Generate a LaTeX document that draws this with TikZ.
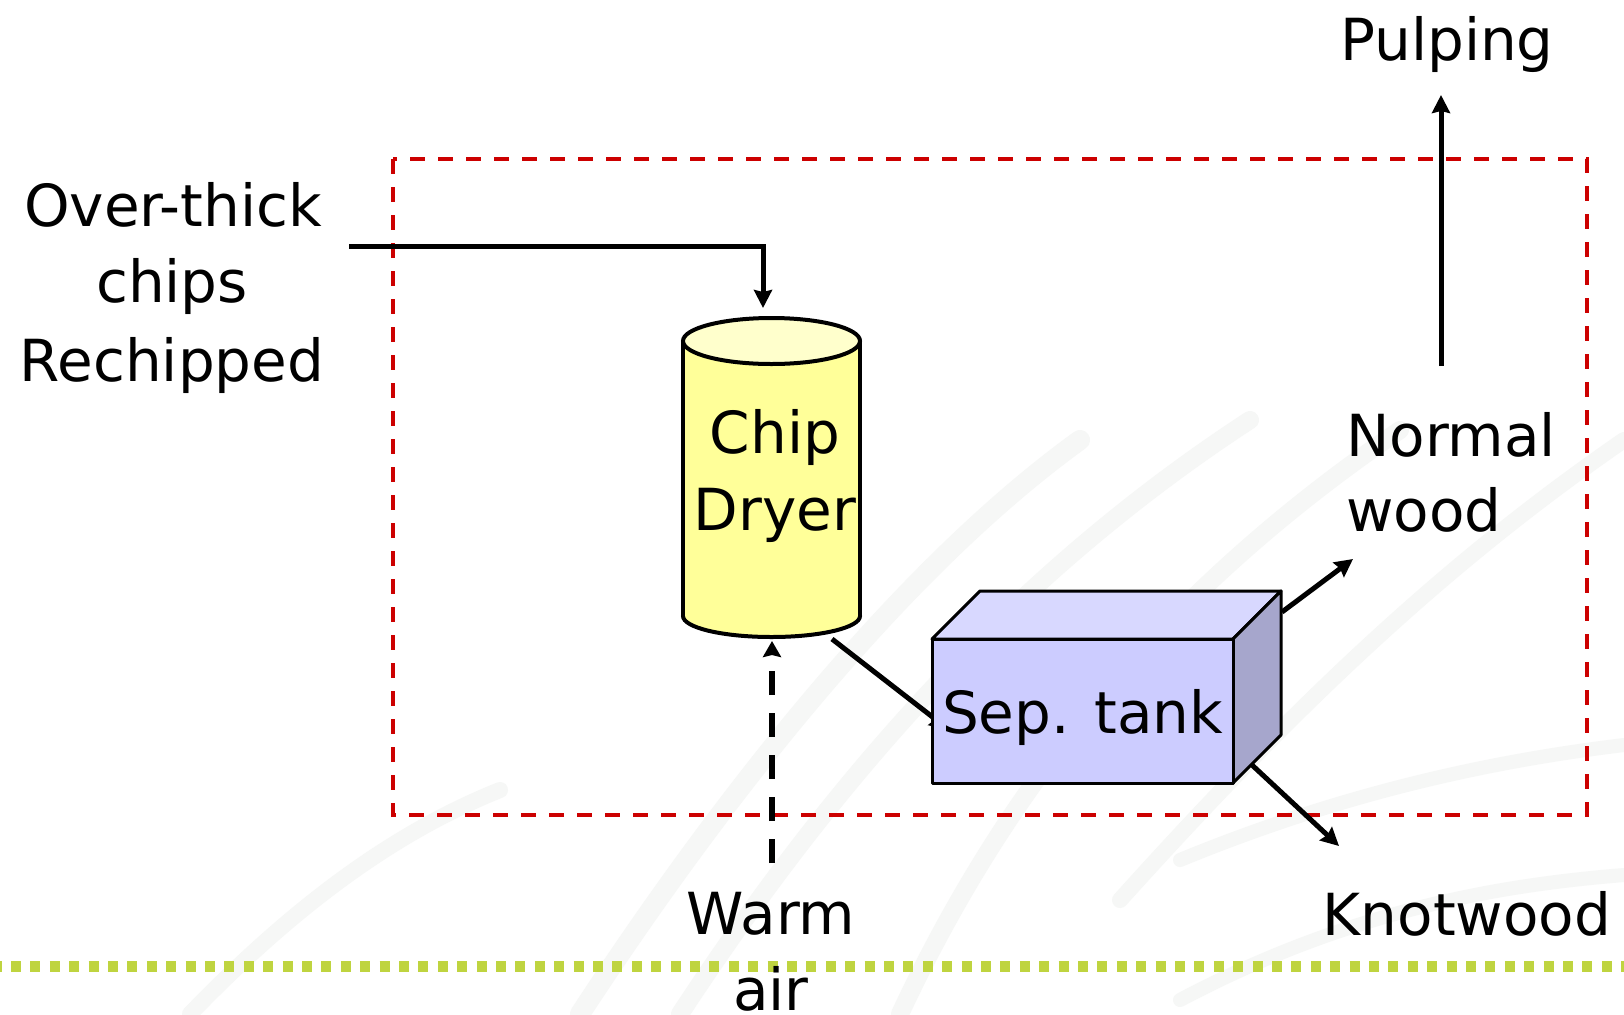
\documentclass[tikz,border=0pt]{standalone}
\usepackage{fontspec}
\setmainfont{DejaVu Sans}
\usetikzlibrary{arrows.meta}
\definecolor{boxred}{RGB}{204,0,0}
\definecolor{dotgreen}{RGB}{191,212,64}
\definecolor{dryerbody}{RGB}{255,255,153}
\definecolor{dryerlid}{RGB}{255,255,204}
\definecolor{tankfront}{RGB}{204,204,255}
\definecolor{tanktop}{RGB}{216,216,255}
\definecolor{tankside}{RGB}{166,166,204}
\definecolor{swooshgray}{RGB}{246,247,246}
\begin{document}
\begin{tikzpicture}[x=1bp,y=-1bp,
  lbl/.style={font=\fontsize{58bp}{70bp}\selectfont, inner sep=0pt, anchor=base},
  flow/.style={line width=5bp, -{Stealth[length=18bp,width=18bp,inset=2bp]}},
  airflow/.style={line width=6.5bp, dash pattern=on 24bp off 18bp, -{Stealth[length=16bp,width=18bp,inset=2bp]}},
  boundary/.style={draw=boxred, line width=4bp, dash pattern=on 15bp off 13bp},
  swoosh/.style={draw=swooshgray, line cap=round},
  outline/.style={draw=black, line width=4bp},
  tankedge/.style={draw=black, line width=3bp, line join=round}]
\useasboundingbox (0,0) rectangle (1624,1014);
\fill[white] (0,0) rectangle (1624,1014);

% faint background swooshes
\draw[swoosh, line width=16bp] (190,1014) .. controls (300,900) and (400,830) .. (500,790);
\draw[swoosh, line width=20bp] (580,1014) .. controls (720,800) and (900,570) .. (1080,440);
\draw[swoosh, line width=18bp] (680,1014) .. controls (840,770) and (1020,570) .. (1250,420);
\draw[swoosh, line width=18bp] (900,1014) .. controls (1000,800) and (1150,600) .. (1400,430);
\draw[swoosh, line width=16bp] (1120,900) .. controls (1300,700) and (1450,560) .. (1624,440);
\draw[swoosh, line width=14bp] (1180,860) .. controls (1350,790) and (1500,760) .. (1624,745);
\draw[swoosh, line width=14bp] (1180,1000) .. controls (1350,910) and (1500,885) .. (1624,875);

% named points
\coordinate (inEnd) at (349,246);
\coordinate (inBend) at (763,246);
\coordinate (dryerIn) at (763,308);
\coordinate (dryerOut) at (832,639);
\coordinate (dryerAir) at (772,641);
\coordinate (airStart) at (772,863);
\coordinate (tankIn) at (948,729);
\coordinate (tankTopOut) at (1282,612);
\coordinate (tankBotOut) at (1252,765);
\coordinate (normalEnd) at (1353,559);
\coordinate (knotEnd) at (1339,846);
\coordinate (pulpStart) at (1441,366);
\coordinate (pulpEnd) at (1441,95);

% boundary
\draw[boundary] (393,159) rectangle (1587,815);

% green dotted rule
\draw[dotgreen, line width=11bp, dash pattern=on 10bp off 9.4bp] (-8.4,966) -- (1640,966);

% connectors (behind the equipment)
\draw[flow] (inEnd) -- (inBend) -- (dryerIn);
\draw[flow] (dryerOut) -- (tankIn);
\draw[flow] (tankTopOut) -- (normalEnd);
\draw[flow] (tankBotOut) -- (knotEnd);
\draw[flow] (pulpStart) -- (pulpEnd);
\draw[airflow] (airStart) -- (dryerAir);

% chip dryer cylinder
\filldraw[fill=dryerbody, outline] (771.5,616) ellipse [x radius=88.5, y radius=21];
\fill[dryerbody] (683,341) rectangle (860,616);
\draw[outline] (683,341) -- (683,616);
\draw[outline] (860,341) -- (860,616);
\filldraw[fill=dryerlid, outline] (771.5,341) ellipse [x radius=88.5, y radius=23];
\node[lbl] (chip) at (775,453) {Chip};
\node[lbl] (dryer) at (775,530) {Dryer};

% separation tank
\filldraw[fill=tanktop, tankedge] (932,639) -- (980,591) -- (1281,591) -- (1233,639) -- cycle;
\filldraw[fill=tankside, tankedge] (1233,639) -- (1281,591) -- (1281,735) -- (1233,783) -- cycle;
\node[fill=tankfront, tankedge, minimum width=301bp, minimum height=144bp, inner sep=0pt, text depth=0bp,
  font=\fontsize{58bp}{70bp}\selectfont] (tank) at (1082.5,711) {Sep. tank};

% labels
\node[lbl] (over) at (173,226) {Over-thick};
\node[lbl] (chips) at (172,302) {chips};
\node[lbl] (rechip) at (172,381) {Rechipped};
\node[lbl] (pulping) at (1447,60) {Pulping};
\node[lbl, anchor=base west] (normal) at (1346,456) {Normal};
\node[lbl, anchor=base west] (wood) at (1346,531) {wood};
\node[lbl] (knot) at (1467,935) {Knotwood};
\node[lbl] (warm) at (771,934) {Warm};
\node[lbl] (air) at (771,1010) {air};
\end{tikzpicture}
\end{document}
